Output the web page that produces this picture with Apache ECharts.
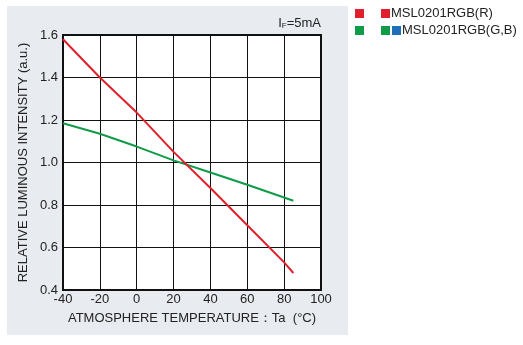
<!DOCTYPE html>
<html>
<head>
<meta charset="utf-8">
<script src="https://cdn.jsdelivr.net/npm/echarts@6/dist/echarts.min.js"></script>
<style>
  html, body { margin: 0; padding: 0; background: #ffffff; }
  #chart { width: 523px; height: 345px; }
</style>
</head>
<body>
<div id="chart"></div>
<script>
// Relative luminous intensity vs ambient temperature (IF = 5 mA)
const temperatures = [-40, -20, 0, 20, 40, 60, 80, 85];
const redIntensity = [1.58, 1.40, 1.235, 1.05, 0.88, 0.705, 0.53, 0.48];
const greenTemps = [-40, -20, 0, 20, 40, 60, 85];
const greenIntensity = [1.185, 1.135, 1.075, 1.01, 0.953, 0.895, 0.82];
const xTicks = [-40, -20, 0, 20, 40, 60, 80, 100];
const yTicks = [0.4, 0.6, 0.8, 1.0, 1.2, 1.4, 1.6];
const legendNames = ['MSL0201RGB(R)', 'MSL0201RGB(G,B)'];

const RED = '#e0202c';
const GREEN = '#0f9b48';
const BLUE = '#1f6fb8';
const FONT = '"Liberation Sans", Arial, sans-serif';

const chart = echarts.init(document.getElementById('chart'));

chart.setOption({
  animation: false,
  backgroundColor: '#ffffff',
  textStyle: { fontFamily: FONT },
  grid: {
    left: 63, top: 35, right: 202, bottom: 55,
    show: true, backgroundColor: '#ffffff',
    borderColor: '#111111', borderWidth: 2
  },
  xAxis: {
    type: 'value',
    min: xTicks[0], max: xTicks[xTicks.length - 1], interval: 20,
    axisLine: { show: false },
    axisTick: { show: false },
    splitLine: { show: true, lineStyle: { color: '#111111', width: 1 } },
    axisLabel: { color: '#222222', fontSize: 13, margin: 3, fontFamily: FONT },
    name: 'ATMOSPHERE TEMPERATURE\uFF1ATa  (\u00B0C)',
    nameLocation: 'middle',
    nameGap: 22,
    nameTextStyle: { color: '#222222', fontSize: 13, fontFamily: FONT }
  },
  yAxis: {
    type: 'value',
    min: yTicks[0], max: yTicks[yTicks.length - 1], interval: 0.2,
    axisLine: { show: false },
    axisTick: { show: false },
    splitLine: { show: true, lineStyle: { color: '#111111', width: 1 } },
    axisLabel: {
      color: '#222222', fontSize: 13, margin: 5, fontFamily: FONT,
      formatter: v => v.toFixed(1)
    },
    name: 'RELATIVE LUMINOUS INTENSITY (a.u.)',
    nameLocation: 'middle',
    nameGap: 33,
    nameTextStyle: { color: '#222222', fontSize: 13, fontFamily: FONT }
  },
  series: [
    {
      name: legendNames[0],
      type: 'line',
      data: temperatures.map((t, i) => [t, redIntensity[i]]),
      showSymbol: false,
      lineStyle: { color: RED, width: 2 },
      z: 3
    },
    {
      name: legendNames[1],
      type: 'line',
      data: greenTemps.map((t, i) => [t, greenIntensity[i]]),
      showSymbol: false,
      lineStyle: { color: GREEN, width: 2 },
      z: 2
    }
  ],
  graphic: [
    {
      type: 'rect', z: -10, silent: true,
      shape: { x: 7, y: 6, width: 341, height: 329 },
      style: { fill: '#e8ebef' }
    },
    {
      type: 'text', right: 523 - 321, top: 17,
      style: {
        text: '{i|I}{f|F}{i|=5mA}',
        rich: {
          i: { fontSize: 13, fill: '#222222', fontFamily: FONT },
          f: { fontSize: 8, fill: '#222222', fontFamily: FONT, verticalAlign: 'bottom', padding: [3, 0, 0, 0] }
        }
      }
    },
    // legend row 1
    { type: 'rect', shape: { x: 355, y: 9, width: 9, height: 9 }, style: { fill: RED } },
    { type: 'rect', shape: { x: 381, y: 9, width: 9, height: 9 }, style: { fill: RED } },
    {
      type: 'text', left: 391, top: 7,
      style: { text: legendNames[0], fontSize: 13, fill: '#222222', fontFamily: FONT }
    },
    // legend row 2
    { type: 'rect', shape: { x: 355, y: 26, width: 9, height: 9 }, style: { fill: GREEN } },
    { type: 'rect', shape: { x: 381, y: 26, width: 9, height: 9 }, style: { fill: GREEN } },
    { type: 'rect', shape: { x: 392, y: 26, width: 9, height: 9 }, style: { fill: BLUE } },
    {
      type: 'text', left: 402, top: 24,
      style: { text: legendNames[1], fontSize: 13, fill: '#222222', fontFamily: FONT }
    }
  ]
});
</script>
</body>
</html>
